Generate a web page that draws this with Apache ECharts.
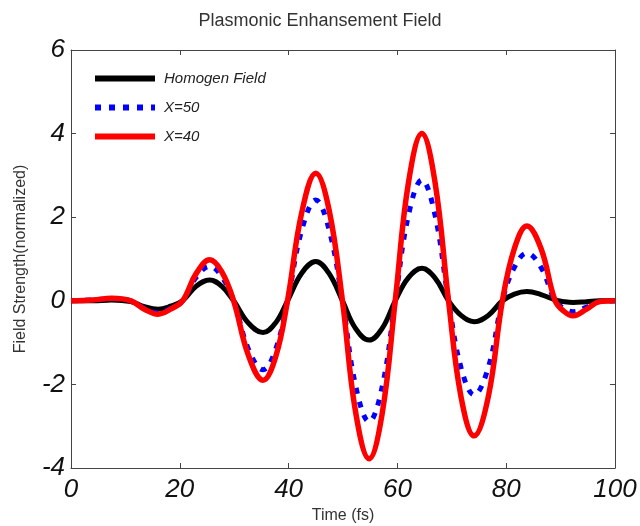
<!DOCTYPE html>
<html>
<head>
<meta charset="utf-8">
<script src="https://cdn.jsdelivr.net/npm/echarts@6/dist/echarts.min.js"></script>
<style>
  html, body { margin: 0; padding: 0; background: #fff; }
  #chart { width: 640px; height: 526px; }
</style>
</head>
<body>
<div id="chart"></div>
<script>
// time samples (fs) at peaks / zero crossings / in between
const timeFs = [0, 4, 7.5, 11, 13.5, 16, 18.3, 20.5, 23, 25.5, 27.7, 29.9, 32.6, 35.3, 37.6,
  39.8, 42.4, 45, 47.4, 49.9, 52.3, 54.8, 57.2, 59.6, 62, 64.5, 66.9, 69.4, 71.7, 74.1,
  76.7, 79.3, 81.5, 83.8, 86.4, 89, 90.6, 92.3, 94.8, 97.2, 100];

const homogenField = [0, 0, 0.02, -0.02, -0.14, -0.2, -0.13, 0, 0.35, 0.5, 0.35, 0, -0.53, -0.76, -0.53,
  0, 0.66, 0.94, 0.66, 0, -0.66, -0.94, -0.66, 0, 0.55, 0.78, 0.55, 0, -0.35, -0.5,
  -0.35, 0, 0.16, 0.22, 0.15, 0.02, -0.02, -0.04, -0.02, 0, 0];

const x50 = [0, 0.02, 0.05, 0, -0.18, -0.28, -0.18, 0, 0.56, 0.82, 0.58, 0, -1.15, -1.65, -1.17,
  0, 1.68, 2.41, 1.72, 0, -2.02, -2.89, -2.06, 0, 2.03, 2.89, 2.06, 0, -1.6, -2.25,
  -1.6, 0, 0.8, 1.14, 0.8, 0, -0.18, -0.26, -0.15, -0.02, 0];

const x40 = [0, 0.02, 0.06, 0, -0.2, -0.32, -0.2, 0, 0.65, 0.98, 0.7, 0, -1.3, -1.9, -1.35,
  0, 2.1, 3.05, 2.2, 0, -2.65, -3.78, -2.7, 0, 2.8, 4.0, 2.85, 0, -2.3, -3.23,
  -2.3, 0, 1.25, 1.79, 1.25, 0, -0.25, -0.36, -0.2, -0.02, 0];

const seriesNames = ['Homogen Field', 'X=50', 'X=40'];

const font = 'Liberation Sans, Arial, sans-serif';
const frame = { show: true, onZero: false, lineStyle: { color: '#444', width: 1 } };
const ticks = { inside: true, length: 5, lineStyle: { color: '#444' } };

function pts(arr) {
  return timeFs.map((t, i) => [t, arr[i]]);
}

const chart = echarts.init(document.getElementById('chart'));

const option = {
  backgroundColor: '#fff',
  animation: false,
  title: {
    text: 'Plasmonic Enhansement Field',
    left: 'center',
    top: 7,
    textStyle: { fontFamily: font, fontSize: 18, fontWeight: 'normal', color: '#333' }
  },
  legend: {
    orient: 'vertical',
    left: 87,
    top: 66,
    itemWidth: 60,
    itemHeight: 14,
    itemGap: 14,
    data: seriesNames,
    itemStyle: { opacity: 0 },
    lineStyle: { width: 6 },
    textStyle: { fontFamily: font, fontSize: 15, fontStyle: 'italic', color: '#222', padding: [0, 0, 0, 4] }
  },
  grid: { left: 71, right: 25, top: 50, bottom: 58, outerBoundsMode: 'none' },
  xAxis: [
    {
      type: 'value',
      min: 0, max: 100, interval: 20,
      name: 'Time (fs)',
      nameLocation: 'middle',
      nameGap: 38,
      nameTextStyle: { fontFamily: font, fontSize: 16, color: '#333' },
      axisLine: frame,
      axisTick: ticks,
      axisLabel: { fontFamily: font, fontSize: 26, fontStyle: 'italic', color: '#111', margin: 9 },
      splitLine: { show: false }
    },
    {
      type: 'value', position: 'top',
      min: 0, max: 100, interval: 20,
      axisLine: frame,
      axisTick: ticks,
      axisLabel: { show: false },
      splitLine: { show: false }
    }
  ],
  yAxis: [
    {
      type: 'value',
      min: -4, max: 6, interval: 2,
      name: 'Field Strength(normalized)',
      nameLocation: 'middle',
      nameGap: 42,
      nameTextStyle: { fontFamily: font, fontSize: 16, color: '#333' },
      axisLine: frame,
      axisTick: ticks,
      axisLabel: { fontFamily: font, fontSize: 26, fontStyle: 'italic', color: '#111', margin: 6 },
      splitLine: { show: false }
    },
    {
      type: 'value', position: 'right',
      min: -4, max: 6, interval: 2,
      axisLine: frame,
      axisTick: ticks,
      axisLabel: { show: false },
      splitLine: { show: false }
    }
  ],
  series: [
    {
      name: seriesNames[0],
      type: 'line',
      data: pts(homogenField),
      smooth: 0.4,
      symbol: 'none',
      itemStyle: { color: '#000' },
      lineStyle: { color: '#000', width: 5 }
    },
    {
      name: seriesNames[1],
      type: 'line',
      data: pts(x50),
      smooth: 0.4,
      symbol: 'none',
      itemStyle: { color: '#0000ff' },
      lineStyle: { color: '#0000ff', width: 5, type: [6, 8] }
    },
    {
      name: seriesNames[2],
      type: 'line',
      data: pts(x40),
      smooth: 0.4,
      symbol: 'none',
      itemStyle: { color: '#ff0000' },
      lineStyle: { color: '#ff0000', width: 5.5 }
    }
  ]
};

chart.setOption(option);
</script>
</body>
</html>
